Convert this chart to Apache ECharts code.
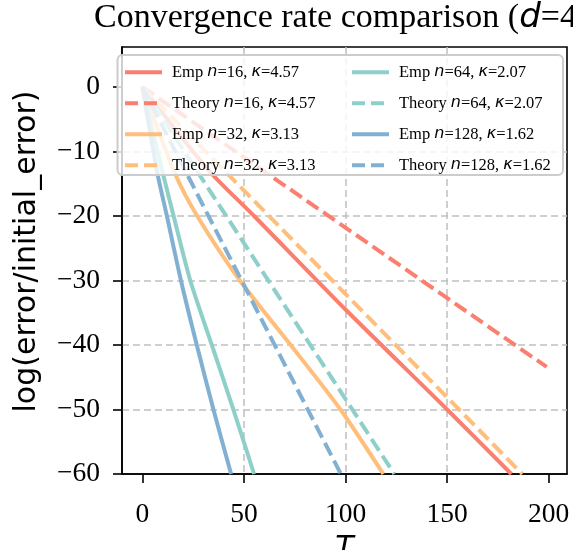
<!DOCTYPE html>
<html><head><meta charset="utf-8">
<script src="https://cdn.jsdelivr.net/npm/echarts@6/dist/echarts.min.js"></script>
<style>html,body{margin:0;padding:0;background:#fff}#c{width:573px;height:550px}</style>
</head><body><div id="c"></div>
<script>
// values: [T, log(error/initial_error)]
const emp16 = [[0,0],[32.6,-12.9],[55,-20],[100,-34.5],[150,-50],[181.6,-60]];
const theory16 = [[0,0],[199,-43.4]];
const emp32 = [[0,0],[16.2,-13.5],[27,-20],[48,-30],[73,-40],[97.5,-50],[118.6,-60]];
const theory32 = [[0,0],[187,-60]];
const emp64 = [[0,0],[10.2,-13.5],[15.4,-20],[23.6,-30],[34.2,-40],[44.8,-50],[55,-60]];
const theory64 = [[0,0],[124,-60]];
const emp128 = [[0,0],[7.5,-13.5],[12.1,-20],[19,-30],[26.8,-40],[35,-50],[43.7,-60]];
const theory128 = [[0,0],[97.7,-60]];
const nValues = [16, 32, 64, 128];
const kappaValues = ['4.57', '3.13', '2.07', '1.62'];
const xTicks = [0, 50, 100, 150, 200];
const yTicks = [-60, -50, -40, -30, -20, -10, 0];
const palette = ['#FA7F6F', '#FFBE7A', '#8ECFC9', '#82B0D2'];

const empData = [emp16, emp32, emp64, emp128];
const theoryData = [theory16, theory32, theory64, theory128];

const serif = 'Liberation Serif';
const LW = 4;
const DASH = [14, 6];
const series = [];
const richNames = {};
const legendItems = [];
nValues.forEach((n, i) => {
  const k = kappaValues[i];
  const eName = 'Emp n=' + n + ', κ=' + k;
  const tName = 'Theory n=' + n + ', κ=' + k;
  richNames[eName] = '{r|Emp }{i|n}{r|=' + n + ', }{i|κ}{r|=' + k + '}';
  richNames[tName] = '{r|Theory }{i|n}{r|=' + n + ', }{i|κ}{r|=' + k + '}';
  series.push({
    name: eName, type: 'line', data: empData[i], symbol: 'none', showSymbol: false,
    smooth: 0.25,
    lineStyle: {color: palette[i], width: LW, type: 'solid', cap: 'butt'},
    itemStyle: {color: palette[i]}, clip: true, animation: false, z: 2
  });
  series.push({
    name: tName, type: 'line', data: theoryData[i], symbol: 'none', showSymbol: false,
    lineStyle: {color: palette[i], width: LW, type: DASH, cap: 'butt'},
    itemStyle: {color: palette[i]}, clip: true, animation: false, z: 2
  });
  legendItems.push({name: eName, itemStyle: {opacity: 0, borderWidth: 0},
    lineStyle: {color: palette[i], width: LW, type: 'solid', opacity: 1}});
  legendItems.push({name: tName, itemStyle: {opacity: 0, borderWidth: 0},
    lineStyle: {color: palette[i], width: LW, type: [13, 6], opacity: 1}});
});

const rich = {
  r: {fontFamily: serif, fontSize: 16.5, color: '#000', lineHeight: 14},
  i: {fontFamily: 'DejaVu Sans', fontStyle: 'italic', fontSize: 16, color: '#000', lineHeight: 14}
};
function mkLegend(items, left) {
  return {
    data: items, orient: 'vertical', left: left, top: 63.7, padding: 0,
    itemWidth: 37, itemHeight: 14, itemGap: 14, selectedMode: false, z: 110,
    itemStyle: {opacity: 0, borderWidth: 0},
    formatter: name => richNames[name],
    textStyle: {fontFamily: serif, fontSize: 16.5, color: '#000', lineHeight: 14, padding: [0, 0, 0, 5], rich: rich}
  };
}

const chart = echarts.init(document.getElementById('c'), null, {renderer: 'canvas'});
chart.setOption({
  animation: false,
  backgroundColor: '#fff',
  title: {
    text: '{a|Convergence rate comparison (}{b|d}{a|=4)}',
    left: 94, top: 1, padding: 0,
    textStyle: {
      fontWeight: 'normal',
      rich: {
        a: {fontFamily: serif, fontSize: 34, fontWeight: 'normal', color: '#000'},
        b: {fontFamily: 'DejaVu Sans', fontStyle: 'italic', fontWeight: 'normal', fontSize: 34, color: '#000'}
      }
    }
  },
  grid: {left: 122, top: 47, width: 445, height: 427, show: true, borderColor: '#000', borderWidth: 1.6,
    backgroundColor: 'transparent', containLabel: false, outerBoundsMode: 'none'},
  xAxis: {
    type: 'value', min: -10, max: 209,
    name: 'T', nameLocation: 'middle', nameGap: 60,
    nameTextStyle: {fontFamily: 'DejaVu Sans', fontStyle: 'italic', fontSize: 30, color: '#000'},
    axisLine: {show: true, onZero: false, lineStyle: {color: '#000', width: 1.6}},
    axisTick: {show: true, length: 9, customValues: xTicks, lineStyle: {color: '#000', width: 1.6}},
    axisLabel: {customValues: xTicks, margin: 27, fontFamily: serif, fontSize: 27.5, color: '#000'},
    splitLine: {show: true, showMinLine: false, showMaxLine: false, lineStyle: {color: '#c0c0c0', width: 1.5, type: [7, 4]}}
  },
  yAxis: {
    type: 'value', min: -60, max: 6.2,
    axisLine: {show: true, onZero: false, lineStyle: {color: '#000', width: 1.6}},
    axisTick: {show: true, length: 9, customValues: yTicks, lineStyle: {color: '#000', width: 1.6}},
    axisLabel: {customValues: yTicks, margin: 22, fontFamily: serif, fontSize: 27.5, color: '#000',
      formatter: v => (v < 0 ? '\u2212' + Math.abs(v) : String(v))},
    splitLine: {show: true, showMinLine: false, showMaxLine: false, lineStyle: {color: '#c0c0c0', width: 1.5, type: [7, 4]}}
  },
  legend: [mkLegend(legendItems.slice(0, 4), 123), mkLegend(legendItems.slice(4, 8), 350)],
  graphic: [
    {type: 'rect', z: 100, shape: {x: 117.5, y: 55, width: 445.5, height: 120, r: 5},
      style: {fill: 'rgba(255,255,255,0.8)', stroke: '#cccccc', lineWidth: 2}},
    {type: 'text', z: 100, x: 27.5, y: 251.5, rotation: Math.PI / 2,
      style: {text: 'log(error/initial_error)', font: '30px "DejaVu Sans"', fill: '#000', align: 'center', verticalAlign: 'middle'}}
  ],
  series: series
});
</script></body></html>
